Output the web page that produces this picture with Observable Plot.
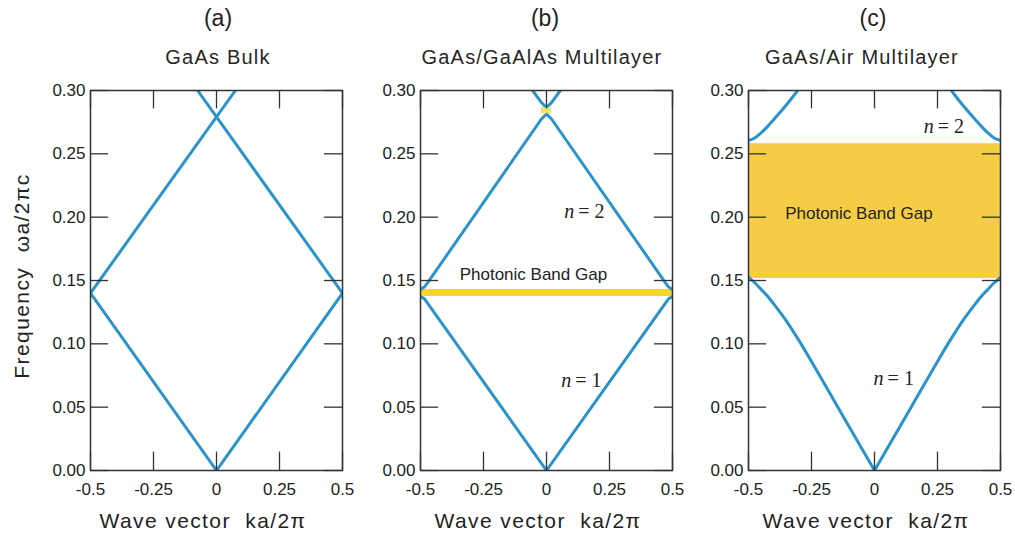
<!DOCTYPE html>
<html><head><meta charset="utf-8">
<script src="https://cdn.jsdelivr.net/npm/d3@7"></script>
<script src="https://cdn.jsdelivr.net/npm/@observablehq/plot@0.6"></script>
<style>
body{margin:0;background:#fff;}
#wrap{position:relative;width:1015px;height:538px;font-family:"Liberation Sans",Arial,sans-serif;color:#222;overflow:hidden;}
.t{position:absolute;white-space:pre;transform:translate(-50%,-50%);}
.lab{font-size:23px;}
.sub{font-size:20px;letter-spacing:1.2px;color:#262626;}
.xt{font-size:21px;letter-spacing:1.4px;color:#222;}
.pl{position:absolute;top:80px;}
</style>
</head><body>
<div id="wrap"></div>
<script>
// ---- data ----
const xTicks = [-0.5, -0.25, 0, 0.25, 0.5];
const xTickLabels = ["-0.5", "-0.25", "0", "0.25", "0.5"];
const yTicks = [0, 0.05, 0.10, 0.15, 0.20, 0.25, 0.30];

const panelLetters = ["(a)", "(b)", "(c)"];
const panelTitles = ["GaAs Bulk", "GaAs/GaAlAs Multilayer", "GaAs/Air Multilayer"];
const xTitle = "Wave vector  ka/2\u03c0";
const yTitle = "Frequency  \u03c9a/2\u03c0c";

// Panel (a): bulk GaAs, folded light lines
const aN1k = [-0.5, 0, 0.5];
const aN1w = [0.14, 0, 0.14];
const aUpk = [-0.5, 0.075];
const aUpw = [0.14, 0.30];
const aDnk = [0.5, -0.075];
const aDnw = [0.14, 0.30];

// Panel (b): GaAs/GaAlAs multilayer
const bN1k = [-0.5, -0.485, -0.47, 0, 0.47, 0.485, 0.5];
const bN1w = [0.1374, 0.1357, 0.1316, 0, 0.1316, 0.1357, 0.1374];
const bN2k = [-0.5, -0.485, -0.47, -0.02, 0, 0.02, 0.47, 0.485, 0.5];
const bN2w = [0.1429, 0.1448, 0.1487, 0.2775, 0.2815, 0.2775, 0.1487, 0.1448, 0.1429];
const bN3k = [-0.055, -0.02, 0, 0.02, 0.055];
const bN3w = [0.300, 0.2905, 0.2865, 0.2905, 0.300];
const bGap = [0.1374, 0.1429];
const bGapTop = [0.2815, 0.2865];

// Panel (c): GaAs/Air multilayer
const cN1k = [0, 0.05, 0.1, 0.15, 0.2, 0.25, 0.3, 0.35, 0.4, 0.42, 0.45, 0.475, 0.5];
const cN1w = [0, 0.0172, 0.0344, 0.0516, 0.0688, 0.086, 0.1027, 0.1182, 0.1315, 0.1366, 0.1430, 0.1482, 0.1525];
const cN2k = [0.305, 0.35, 0.4, 0.425, 0.45, 0.475, 0.5];
const cN2w = [0.300, 0.2885, 0.2770, 0.2715, 0.2665, 0.2625, 0.2605];
const cGap = [0.1516, 0.258];

// annotations
const gapLabel = "Photonic Band Gap";
const bandNames = ["1", "2"];

// ---- build ----
const BLUE = "#2b93cc";
const TX = 0.072, TY = 0.0145;
function rows(ks, ws, seg, sign = 1) {
  return ks.map((k, i) => ({k: sign * k, w: ws[i], seg}));
}
function basePlot(extra) {
  return Plot.plot({
    width: 309, height: 430, marginLeft: 45, marginRight: 12, marginTop: 10, marginBottom: 40,
    x: {domain: [-0.5, 0.5]},
    y: {domain: [0, 0.3]},
    style: {fontFamily: "Liberation Sans, Arial, sans-serif", fontSize: "17px", color: "#222", background: "transparent", overflow: "visible"},
    marks: [
      ...extra,
      Plot.ruleY(yTicks, {x1: -0.5, x2: -0.5 + TX, stroke: "#333", strokeWidth: 1.3}),
      Plot.ruleY(yTicks, {x1: 0.5 - TX, x2: 0.5, stroke: "#333", strokeWidth: 1.3}),
      Plot.ruleX(xTicks, {y1: 0, y2: TY, stroke: "#333", strokeWidth: 1.3}),
      Plot.ruleX(xTicks, {y1: 0.3 - TY, y2: 0.3, stroke: "#333", strokeWidth: 1.3}),
      Plot.frame({stroke: "#333", strokeWidth: 1.5}),
      Plot.axisY({ticks: yTicks, tickSize: 0, tickPadding: 5, tickFormat: d3.format(".2f"), label: null}),
      Plot.axisX({ticks: xTicks, tickSize: 0, tickPadding: 12, tickFormat: d => xTickLabels[xTicks.indexOf(d)], label: null})
    ]
  });
}
function lineMark(data, curve = "linear") {
  return Plot.line(data, {x: "k", y: "w", z: "seg", stroke: BLUE, strokeWidth: 3, curve, clip: true});
}
function txt(k, w, s, opts = {}) {
  return Plot.text([s], {x: () => k, y: () => w, text: d => d, fill: "#222", ...opts});
}
const serif = {fontFamily: "Liberation Serif, Times New Roman, serif", fontSize: 20};
function bandLabel(k, w, num) {
  return [
    txt(k, w, "n", {...serif, fontStyle: "italic", textAnchor: "end", dx: -5}),
    txt(k, w, "= " + num, {...serif, textAnchor: "start", dx: -1})
  ];
}

const pA = basePlot([
  lineMark([...rows(aN1k, aN1w, "n1"), ...rows(aUpk, aUpw, "u"), ...rows(aDnk, aDnw, "d")])
]);

const pB = basePlot([
  Plot.rect([bGap], {x1: -0.5, x2: 0.5, y1: d => d[0], y2: d => d[1], fill: "#f7d52a"}),
  lineMark([...rows(bN1k, bN1w, "n1"), ...rows(bN2k, bN2w, "n2"), ...rows(bN3k, bN3w, "n3")]),
  Plot.rect([bGapTop], {x1: -0.02, x2: 0.02, y1: d => d[0], y2: d => d[1], fill: "#e8e04a", opacity: 0.8}),
  txt(-0.052, 0.1545, gapLabel, {fontSize: 17}),
  ...bandLabel(0.13, 0.2045, bandNames[1]),
  ...bandLabel(0.118, 0.071, bandNames[0])
]);

const pC = basePlot([
  Plot.rect([cGap], {x1: -0.5, x2: 0.5, y1: d => d[0], y2: d => d[1], fill: "#f4cd45"}),
  lineMark([...rows(cN1k, cN1w, "n1r"), ...rows(cN1k, cN1w, "n1l", -1),
            ...rows(cN2k, cN2w, "n2r"), ...rows(cN2k, cN2w, "n2l", -1)], "monotone-x"),
  txt(-0.062, 0.203, gapLabel, {fontSize: 17}),
  ...bandLabel(0.255, 0.2716, bandNames[1]),
  ...bandLabel(0.056, 0.0726, bandNames[0])
]);

const wrap = document.getElementById("wrap");
const lefts = [45, 375, 703];
[pA, pB, pC].forEach((p, i) => {
  p.classList.add("pl");
  p.style.left = lefts[i] + "px";
  wrap.appendChild(p);
});
const centers = [218, 545, 873];
const subCenters = [218, 542, 862];
const xtCenters = [203, 538, 866];
function addText(cls, s, x, y) {
  const d = document.createElement("div");
  d.className = "t " + cls;
  d.textContent = s;
  d.style.left = x + "px";
  d.style.top = y + "px";
  wrap.appendChild(d);
  return d;
}
panelLetters.forEach((s, i) => addText("lab", s, centers[i], 18));
panelTitles.forEach((s, i) => addText("sub", s, subCenters[i], 57));
[0, 1, 2].forEach(i => addText("xt", xTitle, xtCenters[i], 521));
const yl = addText("xt", yTitle, 22, 276);
yl.style.transform = "translate(-50%,-50%) rotate(-90deg)";
</script>
</body></html>
